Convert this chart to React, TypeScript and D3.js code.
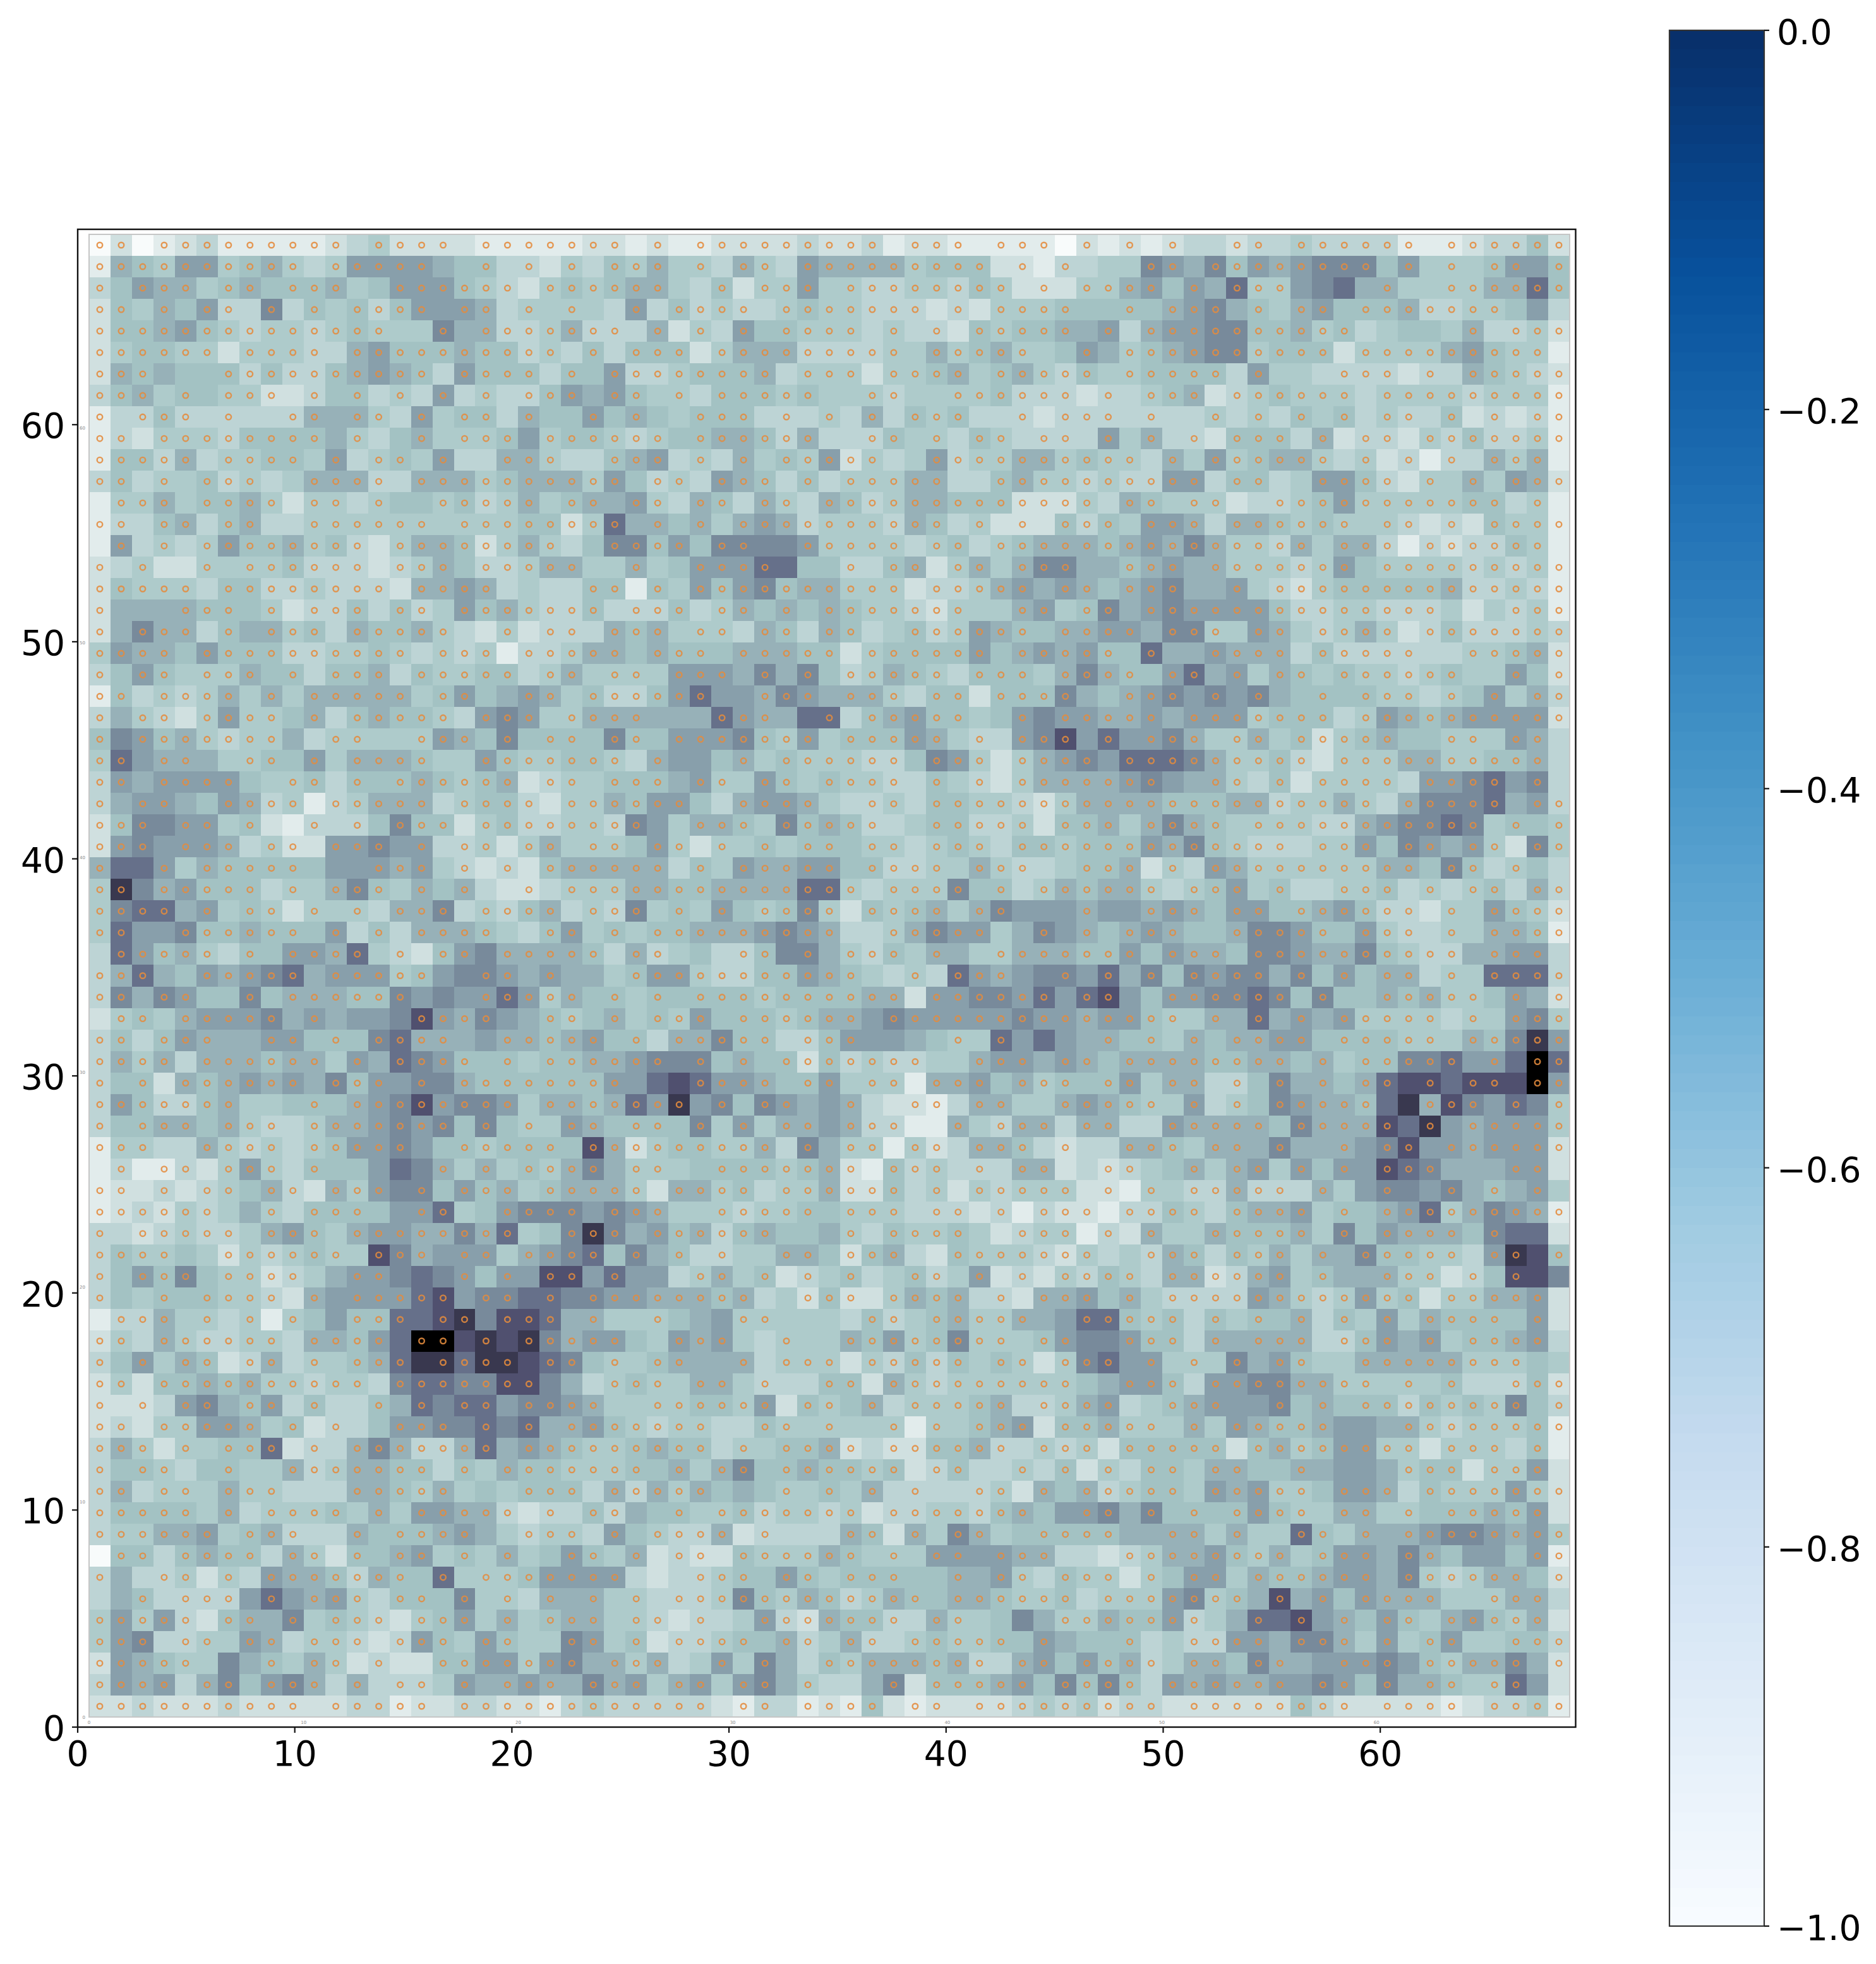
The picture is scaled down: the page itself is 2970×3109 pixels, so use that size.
import React from "react";
import * as d3 from "d3";

// Cell shade levels, top row first. 0 = lightest ... c = black.
const leftRows = [
"0201231111 1234222211 1112212112 2223",
"1654774564 3477776553 3243546443 6437",
"3576645655 5645777543 2454566435 2447",
"2546573383 5453577763 4444373534 3345",
"2556754344 3454448663 3463336243 7554",
"2455442444 3367555655 3435355524 6663",
"2656555353 3567653755 5355733455 5634",
"3564554422 3553437343 3576754435 5545",
"1335333333 6664374553 6557565455 5333",
"1324443555 5643564445 7455434556 6536",
"1553634455 4734547336 6433567343 6454",
"3534453434 6663366645 6664753437 6535",
"1446455642 4434554534 6456674365 3643",
"1335635633 4444444444 5524966564 6763",
"1734347556 4532466524 6435885758 8887",
"2342244445 3332346533 4664464577 7995",
"2544435533 4333266763 4335515475 7856",
"2666655542 3353534756 4335333534 6565",
"2686635664 5365564324 2333656444 3653",
"4766575553 3445434341 3346656555 6665",
"3575444655 3556354455 3464444777 6868",
"1534346464 6666645756 7645335797 7687",
"3643247445 6356554378 7446666669 7669",
"5875643446 3444447658 5555855777 8547",
"4976664455 7466654475 4455436775 6454",
"3767777544 5355565456 2344555674 4754",
"3677657634 1346663455 3244657753 6776",
"2588774521 3335855245 3344387466 5485",
"2787776342 2778773342 4644457424 4545",
"6997465555 5777674323 2566666354 7667",
"4b86755534 4685465632 2344466556 6669",
"4899674542 4443668343 5634384547 5458",
"4977855655 5735366654 3574545566 6787",
"3975643557 7694325786 6665363453 3588",
"3696576789 6777457887 6766457743 3557",
"3868755856 6655878779 7465545555 5455",
"2454677786 76778a7687 6545645475 5545",
"3535766677 5558966676 6567553668 5533",
"3646366656 6476987555 4556678885 6552",
"3552656767 6857788655 5555779a97 7655",
"3753356445 55678a7887 4665697b78 5876",
"3556656433 4667878585 4476555584 7466",
"1443364343 4577875545 555a624554 4638",
"1311324743 5557986464 5468644455 5545",
"1223234563 2647885756 4566642664 5344",
"1232434643 5555779457 8887876444 3445",
"3323433467 5467766869 458b867563 5655",
"3544542434 544a867774 6789586533 4466",
"3575854423 4677898757 7aa7977346 4523",
"3545554432 677779a788 9988776665 6342",
"1336443414 575599ab8a a966444567 4444",
"2436433443 66579ccaba b867754767 4344",
"3574652363 44569bb9bb a985445666 6344",
"2425565644 344389988a a863454466 4333",
"2223786573 5335698997 8876444455 4725",
"2324477645 2335778898 9667543443 3544",
"3642445592 3368633696 7654456553 4455",
"3554355446 3466553546 5544455646 8556",
"3634446443 3366546454 5553636465 6544",
"3555546344 4546477663 2335365544 5344",
"3446674563 3365556764 3443754336 2333",
"0553565536 4255674546 4575462322 5444",
"3633424376 6536559444 5777732334 5575",
"3653333797 6743555844 3666443334 8546",
"4747325668 4543245746 4566443233 4732",
"4783344763 4432375475 4487452334 5563",
"2765448654 6423225577 4786646347 4863",
"3767368578 6363334766 7668674674 7864",
"2232223222 2233122332 2134333332 1331",
];
const rightRows = [
"2231221111 1021212332 3343333111 23352",
"6666455522 1334487685 7678885744 45775",
"4433443542 2244675769 4478966444 46695",
"4433323244 4555556786 5467555633 44573",
"4434332545 5667367788 5564534554 63342",
"3334464564 4576456788 4555244446 75441",
"4424456456 4354455553 7443333233 65432",
"4443444453 3323345623 4544434444 34441",
"4363545333 2333333343 4354534335 23231",
"3335443543 3337463325 5536233243 53341",
"7243473446 6454436474 5664342313 36461",
"3444663356 4434337735 5347753244 64762",
"6534665552 2243654442 3345744444 55341",
"4443653422 2535477636 6545444323 25441",
"4444345345 6665676864 4364663132 33541",
"5335624646 8866567664 4434754444 34341",
"6444233467 6765678667 4324555556 33431",
"6544324446 7458678777 7533443334 24341",
"6534534765 5667768844 7643464235 33343",
"5245555756 7675596676 6635333333 44562",
"5346543555 4686557967 4654544345 44752",
"6664355255 5865678787 8655554434 57463",
"9356755457 8776676777 4555347656 77772",
"4555764337 8a79778644 6452456554 44763",
"4433587424 6787999864 4532444664 45563",
"5443354324 6666787664 3524444377 89783",
"4334355443 2466665556 6344643688 89673",
"6533455334 2556468654 4443367889 84554",
"5544345435 5455576854 3334475876 74284",
"7553344643 3455624376 4444446658 53453",
"9434448553 4656643457 4533445343 45363",
"4254564687 7767767657 7556753324 47542",
"6334687746 8765676556 8875574334 46651",
"6435466446 6655757665 8876685433 66773",
"6543439767 8879685878 8685756634 49993",
"5566277887 979a757788 9858556564 45762",
"6678777778 7767754466 9676744443 44784",
"5777654497 9766554656 6775555444 658b7",
"5343344677 6765666655 6656455889 779c9",
"7444166756 4555746633 5866569aa9 aaac7",
"7632213664 4676544734 5876659b6a 87984",
"7633116436 6366337666 658666a9b7 67774",
"6441423665 3233665466 6866678a77 67772",
"6215343336 6232345646 747577a986 66772",
"6225342434 4422144336 3336478878 65674",
"5444333231 3221335435 6674556794 68761",
"6435445423 4413264465 5564857666 58992",
"5256325444 3243436535 4646685544 37ba5",
"4534534723 2435436623 6745666442 35aa8",
"5224656332 6675643333 7643474524 46672",
"4353456446 6799545354 5563547465 55572",
"4657458444 5788755366 6663357674 55673",
"4243535454 2489774448 6754466666 44454",
"5526434444 4456775377 8866444445 33352",
"4563444563 3467345677 7856555354 54853",
"4444144567 2556444647 6556776643 44451",
"6232255633 4342555552 5645774424 44351",
"5545235334 3524355466 5566776455 24472",
"5463333342 6563455476 7445776354 44742",
"3423344356 5778685555 7544664455 56572",
"3652648645 5555666646 4495466678 87674",
"6544477776 6332346675 4645776865 77571",
"4555556674 3544245774 6556776843 46652",
"5346556654 4534447845 6a67576664 44663",
"6553364458 6446557346 99a7657546 75462",
"4633454455 7655534337 7688647457 44553",
"5466656336 7575634665 8667778754 66862",
"3368255567 5858537676 6778758665 44972",
"2152122223 4342332222 2253222221 23341",
];

// Cells (by column) in each row that carry no orange ring.
const noMarker = [
[2,12,17,25,27,37,41,45,47,49,51,52,55,62],
[10,16,17,19,21,23,27,29,32,42,44,46,47,48,51,60,62,64,67],
[1,5,8,12,13,20,27,28,30,34,43,45,50,52,56,57,58,59,61,62],
[2,4,7,9,11,16,19,21,23,24,26,31,39,41,46,47,49,53,55,58,66,67,68],
[14,15,17,25,27,29,31,36,38,40,46,48,59,60,61,62,63,65],
[6,11,22,24,28,38,44,45,47,58,68],
[3,4,5,16,21,23,32,36,41,47,53,55,56,57,61,63],
[3,5,9,11,13,15,17,19,23,26,28,34,35,38,39,46,48,52,59],
[1,5,7,8,11,14,16,19,21,22,24,26,27,31,33,35,37,41,42,44,48,50,51,53,55,57,59,62,64,66],
[2,11,13,14,16,20,27,34,35,38,40,43,46,48,50,52,56,58,61],
[5,10,12,15,17,18,22,23,27,29,31,37,38,49,51,58,60,62,64,68],
[2,4,8,9,14,25,28,32,34,40,41,52,55,56,61,63,65],
[0,4,9,12,14,15,21,24,27,30,33,47,50,53,54,66,68],
[2,5,8,9,16,25,27,29,40,42,44,48,52,59,62,64],
[0,2,4,13,22,23,28,31,32,38,41,57,61,68],
[1,3,4,6,13,17,23,24,26,27,32,33,34,36,39,42,46,47,51,59],
[5,14,19,20,21,22,25,27,38,44,47,51,52,54],
[1,2,3,7,9,13,16,24,28,31,33,41,42,45,48,63,64,65],
[1,5,7,11,17,18,20,23,27,30,33,36,37,44,49,53,56,61],
[4,15,19,25,29,35,42,48,50,51,56,62,63],
[1,4,8,10,14,20,23,26,30,32,34,40,44,49,52,54,57,64,65,67],
[2,7,9,15,18,19,22,29,30,34,38,41,46,47,51,53,55,56,58,62,64,66],
[1,4,9,11,17,21,26,27,28,32,33,35,41,42,44,50,58],
[1,9,10,13,14,18,20,23,26,34,40,42,46,48,52,55,61,62,65,68],
[2,5,6,9,11,16,17,25,27,28,29,31,38,42,47,57,68],
[2,7,8,11,13,20,23,27,30,33,38,40,42,50,51,54,56,61,66,68],
[1,4,5,10,16,21,28,29,34,35,38,60,66],
[3,6,8,9,11,13,17,26,27,31,37,38,44,48,53,65,67],
[3,7,10,14,16,19,22,25,28,30,32,35,38,42,56,60,63,66],
[1,2,4,10,11,12,16,18,20,27,29,35,40,44,45,49,51,62,65,67,68],
[2,8,10,14,16,18,19,21,36,41,43,50,54,56,57,61,63,66],
[4,6,9,11,13,17,22,26,28,30,35,40,43,44,45,47,48,52,55,62,64],
[2,3,10,12,14,19,20,23,25,35,36,42,43,45,47,51,52,58,62,64],
[0,6,8,13,15,18,24,27,28,29,32,34,38,40,41,49,53,64,68],
[3,4,10,16,17,20,22,23,24,36,37,39,43,44,46,48,50,55,57,59,62,64],
[2,5,6,8,15,16,17,23,25,27,38,45,48,49,56,58,59,65,67],
[0,3,9,11,12,13,14,19,20,23,25,29,36,51,53,55,57,63,65],
[2,6,7,10,12,17,18,24,26,32,36,37,38,39,41,43,44,45,46,48,50,52,57,63],
[4,11,13,18,20,27,29,31,39,40,44,47,56,58,64,66],
[1,3,10,14,16,25,26,27,32,35,38,42,46,49,52,54,56,58,61,63,66],
[7,8,9,11,20,28,30,33,34,36,37,40,43,44,50,52,54,60,61,65,67],
[1,5,9,17,19,21,24,27,29,31,34,38,39,41,45,48,49,55,61,63],
[3,4,9,15,16,22,32,34,37,40,44,46,47,51,54,56,57,59,62],
[0,2,5,9,11,12,13,14,15,17,19,24,27,28,36,40,42,45,46,49,50,52,55,57,59,63,64,65,68],
[2,4,7,10,14,16,20,26,31,38,40,46,48,50,56,58,59,61,62,64,66,68],
[6,7,9,13,14,17,18,23,27,28,34,38,41,43,47,52,57,59],
[1,7,11,20,21,25,32,33,34,36,41,42,46,48,50,51,57,59,64,66,67,68],
[4,5,12,16,19,24,26,28,30,31,34,38,39,47,48,52,56,58,64,67],
[1,5,10,11,14,15,16,18,20,23,25,26,27,30,32,34,36,37,40,42,44,49,56,58,59,63,65,67,68],
[1,2,4,9,11,17,20,22,31,32,36,41,43,47,49,62,68],
[0,4,6,8,10,11,15,18,22,24,25,27,28,29,32,33,34,35,38,44,45,51,53,55,57,59,61,66,68],
[2,9,14,17,19,25,26,30,31,33,34,43,46,47,51,53,57,61,63,68],
[1,3,6,9,11,15,20,23,25,28,29,31,35,41,44,48,50,52,54,57,58,67,68],
[2,13,21,22,23,27,30,32,33,36,46,47,51,60,62,64,65],
[1,3,6,9,11,12,14,16,19,24,25,32,35,37,43,48,49,53,54,56,58,67],
[2,8,10,12,13,17,19,21,29,30,33,35,36,38,40,44,50,52,58,59,60],
[3,5,9,11,19,29,31,36,43,47,53,62,66,68],
[1,4,5,7,8,16,18,26,28,31,38,41,42,44,46,48,51,54,55,57,58,59,60,64,68],
[2,5,9,10,11,17,18,19,23,29,30,31,33,35,37,39,40,43,45,51,57,61],
[5,7,12,14,20,22,25,26,28,36,44,45,48,50,52,57,60,62,68],
[6,10,11,13,18,19,23,25,30,32,33,34,37,39,42,43,48,49,52,54,55,58,60],
[0,3,8,11,13,16,18,20,21,24,26,29,36,38,41,45,46,47,56,60,63,64,65,66],
[1,2,5,7,15,17,25,26,27,31,34,38,39,41,44,48,50,53,60,67],
[0,1,3,7,9,13,16,18,20,22,24,26,39,46,54,56,58,63,64,68],
[5,8,10,14,18,20,24,27,29,30,38,41,42,43,44,52,53,55,57,59,62,68],
[3,6,9,13,17,20,21,24,26,31,34,37,43,45,46,47,49,50,55,59,61,64,65],
[5,6,7,9,12,14,15,23,27,28,30,32,33,42,45,50,53,56,57,61,67],
[4,7,11,13,16,18,22,26,29,32,34,35,36,38,44,49,56,59,61,64,67,68],
[10,16,29,32,37,40,50,59,64],
];

const axisTicks = [0, 10, 20, 30, 40, 50, 60];
const colorbarTicks = [0, -0.2, -0.4, -0.6, -0.8, -1];

const shadeRamp = ["#f8fbfb","#e2ecec","#d0e0e0","#bdd4d5","#aecbcb","#a3c2c3","#97b1b8","#889fab","#788a9b","#66708a","#50506f","#39384f","#000000"];
const bluesRamp = ["#f7fbff","#deebf7","#c6dbef","#9ecae1","#6baed6","#4292c6","#2171b5","#08519c","#08306b"];

const FONT = "'DejaVu Sans', sans-serif";

export default function App() {
  const x = d3.scaleLinear().domain([0, 69]).range([123, 2494.5]);
  const y = d3.scaleLinear().domain([0, 69]).range([2734, 363]);
  const innerX = d3.scaleLinear().domain([0, 69]).range([141, 2485]);
  const innerY = d3.scaleLinear().domain([0, 69]).range([2718, 371]);
  const rowBand = d3.scaleLinear().domain([0, 69]).range([371, 2718]);
  const shade = d3.scaleLinear<string>().domain(d3.range(shadeRamp.length)).range(shadeRamp);
  const cbY = d3.scaleLinear().domain([0, -1]).range([48, 3049]);
  const blues = d3.scaleLinear<string>().domain(bluesRamp.map((_, i) => i / (bluesRamp.length - 1))).range(bluesRamp);
  const steps = d3.range(100);

  const rows = leftRows.map((l, i) => (l + rightRows[i]).replace(/ /g, "").split("").map((c) => parseInt(c, 16)));
  const cw = innerX(1) - innerX(0);
  const ch = rowBand(1) - rowBand(0);

  return (
    <svg width={2970} height={3109} style={{ position: "absolute", left: 0, top: 0, display: "block" }} fontFamily={FONT}>
      <rect width={2970} height={3109} fill="#fff" />
      <g shapeRendering="crispEdges">
        {rows.map((row, r) =>
          row.map((v, c) => (
            <rect key={r + "-" + c} x={innerX(c)} y={rowBand(r)} width={cw + 0.6} height={ch + 0.6} fill={shade(v)} />
          ))
        )}
      </g>
      <g fill="none" stroke="#e58c3e" strokeWidth={2.4} opacity={0.88}>
        {rows.map((row, r) =>
          row.map((_, c) =>
            noMarker[r].includes(c) ? null : (
              <circle key={r + "-" + c} cx={innerX(c + 0.5)} cy={rowBand(r + 0.5)} r={4.3} />
            )
          )
        )}
      </g>
      <rect x={141} y={371} width={2344} height={2347} fill="none" stroke="#c6c6c6" strokeWidth={2} />
      {axisTicks.map((t) => (
        <g key={t} fill="#8a8a8a" fontSize={7}>
          <text x={innerX(t)} y={2729} textAnchor="middle">{t}</text>
          <text x={135} y={innerY(t) + 2.5} textAnchor="end">{t}</text>
        </g>
      ))}

      <rect x={123} y={363} width={2371.5} height={2371} fill="none" stroke="#111" strokeWidth={2.4} />
      {axisTicks.map((t) => (
        <g key={t}>
          <line x1={x(t)} x2={x(t)} y1={2734} y2={2743} stroke="#111" strokeWidth={2.2} />
          <text x={x(t)} y={2795} textAnchor="middle" fontSize={55} fill="#000">{t}</text>
          <line x1={114} x2={123} y1={y(t)} y2={y(t)} stroke="#111" strokeWidth={2.2} />
          <text x={103} y={y(t) + 21} textAnchor="end" fontSize={55} fill="#000">{t}</text>
        </g>
      ))}

      <g shapeRendering="crispEdges">
        {steps.map((i) => (
          <rect key={i} x={2643} width={150}
            y={cbY(-i / 100)} height={cbY(-(i + 1) / 100) - cbY(-i / 100) + 0.6}
            fill={blues(1 - i / 99)} />
        ))}
      </g>
      <rect x={2643} y={48} width={150} height={3001} fill="none" stroke="#333" strokeWidth={2.2} />
      {colorbarTicks.map((t) => (
        <g key={t}>
          <line x1={2793} x2={2801} y1={cbY(t)} y2={cbY(t)} stroke="#111" strokeWidth={2.2} />
          <text x={2813} y={cbY(t) + 22} fontSize={55} fill="#000">{d3.format(".1f")(t).replace("-", "−")}</text>
        </g>
      ))}
    </svg>
  );
}
